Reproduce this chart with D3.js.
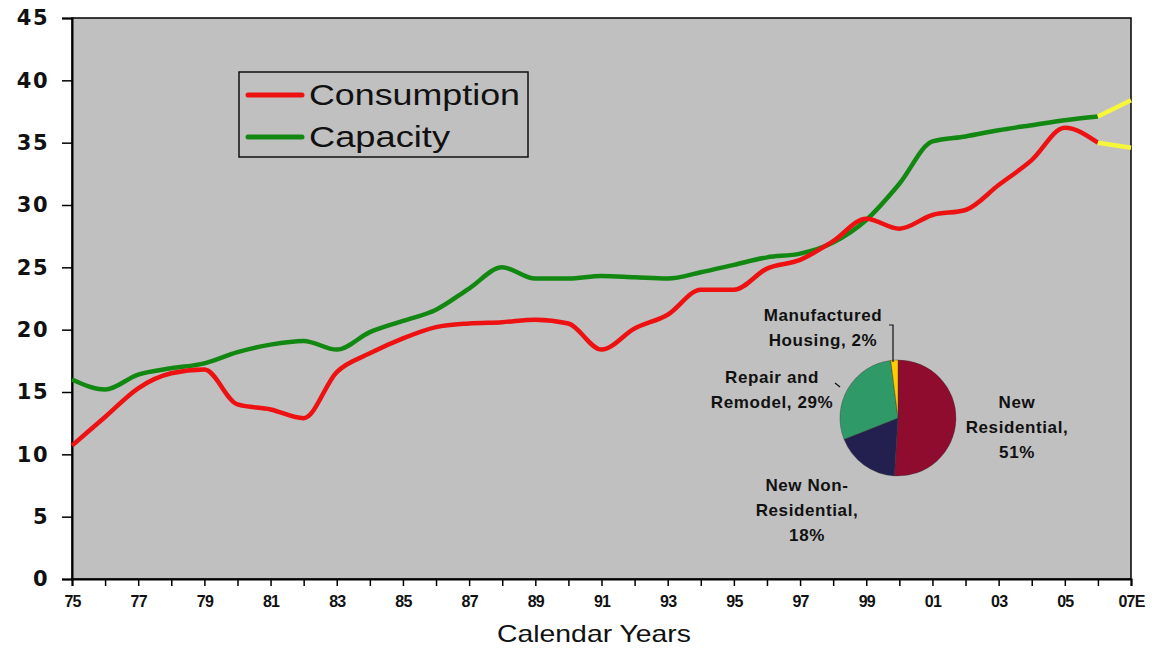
<!DOCTYPE html>
<html lang="en">
<head>
	<meta charset="UTF-8">
	<script type="text/javascript" src="https://cdn.jsdelivr.net/npm/d3@7"></script>
	<title>Consumption vs Capacity</title>
	<style>
		body { margin: 0; background: #fff; }
	</style>
</head>
<body>
<svg id="chart" width="1155" height="649"></svg>

<script type="text/javascript">
	// yearly values
	var years = [1975, 1976, 1977, 1978, 1979, 1980, 1981, 1982, 1983, 1984, 1985, 1986, 1987, 1988, 1989, 1990,
		1991, 1992, 1993, 1994, 1995, 1996, 1997, 1998, 1999, 2000, 2001, 2002, 2003, 2004, 2005, 2006]
	var consumption = [10.7, 13.0, 15.3, 16.5, 16.8, 14.0, 13.6, 12.9, 16.6, 18.1, 19.3, 20.2, 20.5, 20.6, 20.8, 20.5,
		18.4, 20.1, 21.2, 23.2, 23.2, 24.9, 25.6, 27.1, 28.9, 28.1, 29.2, 29.6, 31.6, 33.6, 36.2, 35.0]
	var capacity = [16.0, 15.2, 16.4, 16.9, 17.3, 18.2, 18.8, 19.1, 18.4, 19.8, 20.7, 21.6, 23.3, 25.0, 24.1, 24.1,
		24.3, 24.2, 24.1, 24.6, 25.2, 25.8, 26.1, 27.0, 28.8, 31.7, 35.1, 35.5, 36.0, 36.4, 36.8, 37.1]

	// estimate segment (drawn in yellow)
	var estYears = [2006, 2007]
	var consumptionEst = [35.0, 34.6]
	var capacityEst = [37.1, 38.4]

	var yTicks = [0, 5, 10, 15, 20, 25, 30, 35, 40, 45]
	var xTickLabels = ["75", "77", "79", "81", "83", "85", "87", "89", "91", "93", "95", "97", "99", "01", "03", "05", "07E"]

	// end-use pie
	var pieLabels = ["New Residential", "New Non-Residential", "Repair and Remodel", "Manufactured Housing"]
	var pieValues = [51, 18, 29, 2]
	var pieColors = ["#8f0c2e", "#23204f", "#2f9968", "#ffcc00"]

	var margin = {top: 18, right: 24, bottom: 70, left: 72}
	var width = 1155, height = 649

	var svg = d3.select("#chart")

	var x = d3.scaleLinear()
		.domain([1975, 2007])
		.range([margin.left, width - margin.right])
	var y = d3.scaleLinear()
		.domain([0, 45])
		.range([height - margin.bottom, margin.top])

	// plot background
	svg.append("rect")
		.attr("x", x(1975))
		.attr("y", y(45))
		.attr("width", x(2007) - x(1975))
		.attr("height", y(0) - y(45))
		.attr("fill", "#c0c0c0")
		.attr("stroke", "#000")
		.attr("stroke-width", 1.5)

	// y axis
	var yAxis = svg.append("g")
		.attr("transform", "translate(" + x(1975) + ",0)")
		.call(d3.axisLeft(y).tickValues(yTicks).tickSize(10).tickPadding(13))
	yAxis.select(".domain").attr("stroke-width", 2)
	yAxis.selectAll(".tick line").attr("stroke-width", 1.5)
	yAxis.selectAll("text")
		.style("font-family", "'DejaVu Sans', sans-serif")
		.style("font-weight", "bold")
		.style("font-size", "21px")
		.style("letter-spacing", "1.5px")
		.attr("fill", "#111")

	// x axis, a tick every year and a label every second one
	var xAxis = svg.append("g")
		.attr("transform", "translate(0," + y(0) + ")")
		.call(d3.axisBottom(x)
			.tickValues(d3.range(1975, 2008))
			.tickSize(7)
			.tickPadding(10)
			.tickFormat(function(d) {
				var i = (d - 1975) / 2
				return Number.isInteger(i) ? xTickLabels[i] : ""
			}))
	xAxis.select(".domain").attr("stroke-width", 2)
	xAxis.selectAll(".tick line").attr("stroke-width", 1.5)
	xAxis.selectAll("text")
		.style("font-family", "'Liberation Sans', Arial, sans-serif")
		.style("font-weight", "bold")
		.style("font-size", "16px")
		.style("letter-spacing", "-0.8px")
		.attr("fill", "#111")

	svg.append("text")
		.attr("x", 594)
		.attr("y", 642)
		.attr("text-anchor", "middle")
		.attr("textLength", 194)
		.attr("lengthAdjust", "spacingAndGlyphs")
		.style("font-family", "'Liberation Sans', Arial, sans-serif")
		.style("font-size", "24px")
		.attr("fill", "#111")
		.text("Calendar Years")

	// lines
	var line = d3.line()
		.x(function(d) { return x(d[0]); })
		.y(function(d) { return y(d[1]); })
		.curve(d3.curveMonotoneX)

	function drawLine(xs, vs, color) {
		svg.append("path")
			.datum(d3.zip(xs, vs))
			.attr("d", line)
			.attr("fill", "none")
			.attr("stroke", color)
			.attr("stroke-width", 4.5)
			.attr("stroke-linejoin", "round")
	}
	drawLine(years, capacity, "#128812")
	drawLine(years, consumption, "#ee1111")
	drawLine(estYears, capacityEst, "#f6f63a")
	drawLine(estYears, consumptionEst, "#f6f63a")

	// legend
	var legend = svg.append("g")
	legend.append("rect")
		.attr("x", 239).attr("y", 72)
		.attr("width", 289).attr("height", 85)
		.attr("fill", "none")
		.attr("stroke", "#111")
		.attr("stroke-width", 1.5)
	var legendItems = [["Consumption", "#ee1111"], ["Capacity", "#128812"]]
	legendItems.forEach(function(it, i) {
		var ly = 95 + i * 42
		legend.append("line")
			.attr("x1", 248).attr("x2", 302)
			.attr("y1", ly).attr("y2", ly)
			.attr("stroke", it[1])
			.attr("stroke-width", 5)
			.attr("stroke-linecap", "round")
		legend.append("text")
			.attr("x", 309).attr("y", ly + 10)
			.attr("textLength", i == 0 ? 211 : 141)
			.attr("lengthAdjust", "spacingAndGlyphs")
			.style("font-family", "'Liberation Sans', Arial, sans-serif")
			.style("font-size", "29px")
			.attr("fill", "#111")
			.text(it[0])
	})

	// pie
	var cx = 898, cy = 418, r = 58
	var pie = d3.pie().sort(null)
	var arc = d3.arc().innerRadius(0).outerRadius(r)
	var pg = svg.append("g").attr("transform", "translate(" + cx + "," + cy + ")")
	pg.selectAll("path")
		.data(pie(pieValues))
		.enter()
		.append("path")
		.attr("d", arc)
		.attr("fill", function(d, i) { return pieColors[i]; })
		.attr("stroke", "#333")
		.attr("stroke-width", 0.4)

	// leader lines
	svg.append("path")
		.attr("d", "M889,325 H893 V362")
		.attr("fill", "none")
		.attr("stroke", "#111")
		.attr("stroke-width", 1.2)
	svg.append("path")
		.attr("d", "M835,383 L840,387")
		.attr("fill", "none")
		.attr("stroke", "#111")
		.attr("stroke-width", 1.2)

	// pie labels
	var pieText = [
		{lines: ["Manufactured", "Housing, 2%"], x: 823, y: 321},
		{lines: ["Repair and", "Remodel, 29%"], x: 772, y: 383},
		{lines: ["New", "Residential,", "51%"], x: 1017, y: 408},
		{lines: ["New Non-", "Residential,", "18%"], x: 807, y: 491}
	]
	pieText.forEach(function(t) {
		var tx = svg.append("text")
			.attr("text-anchor", "middle")
			.style("font-family", "'Liberation Sans', Arial, sans-serif")
			.style("font-weight", "bold")
			.style("font-size", "17px")
			.style("letter-spacing", "0.6px")
			.attr("fill", "#111")
		t.lines.forEach(function(s, j) {
			tx.append("tspan")
				.attr("x", t.x)
				.attr("y", t.y + j * 25)
				.text(s)
		})
	})
</script>

</body>
</html>
